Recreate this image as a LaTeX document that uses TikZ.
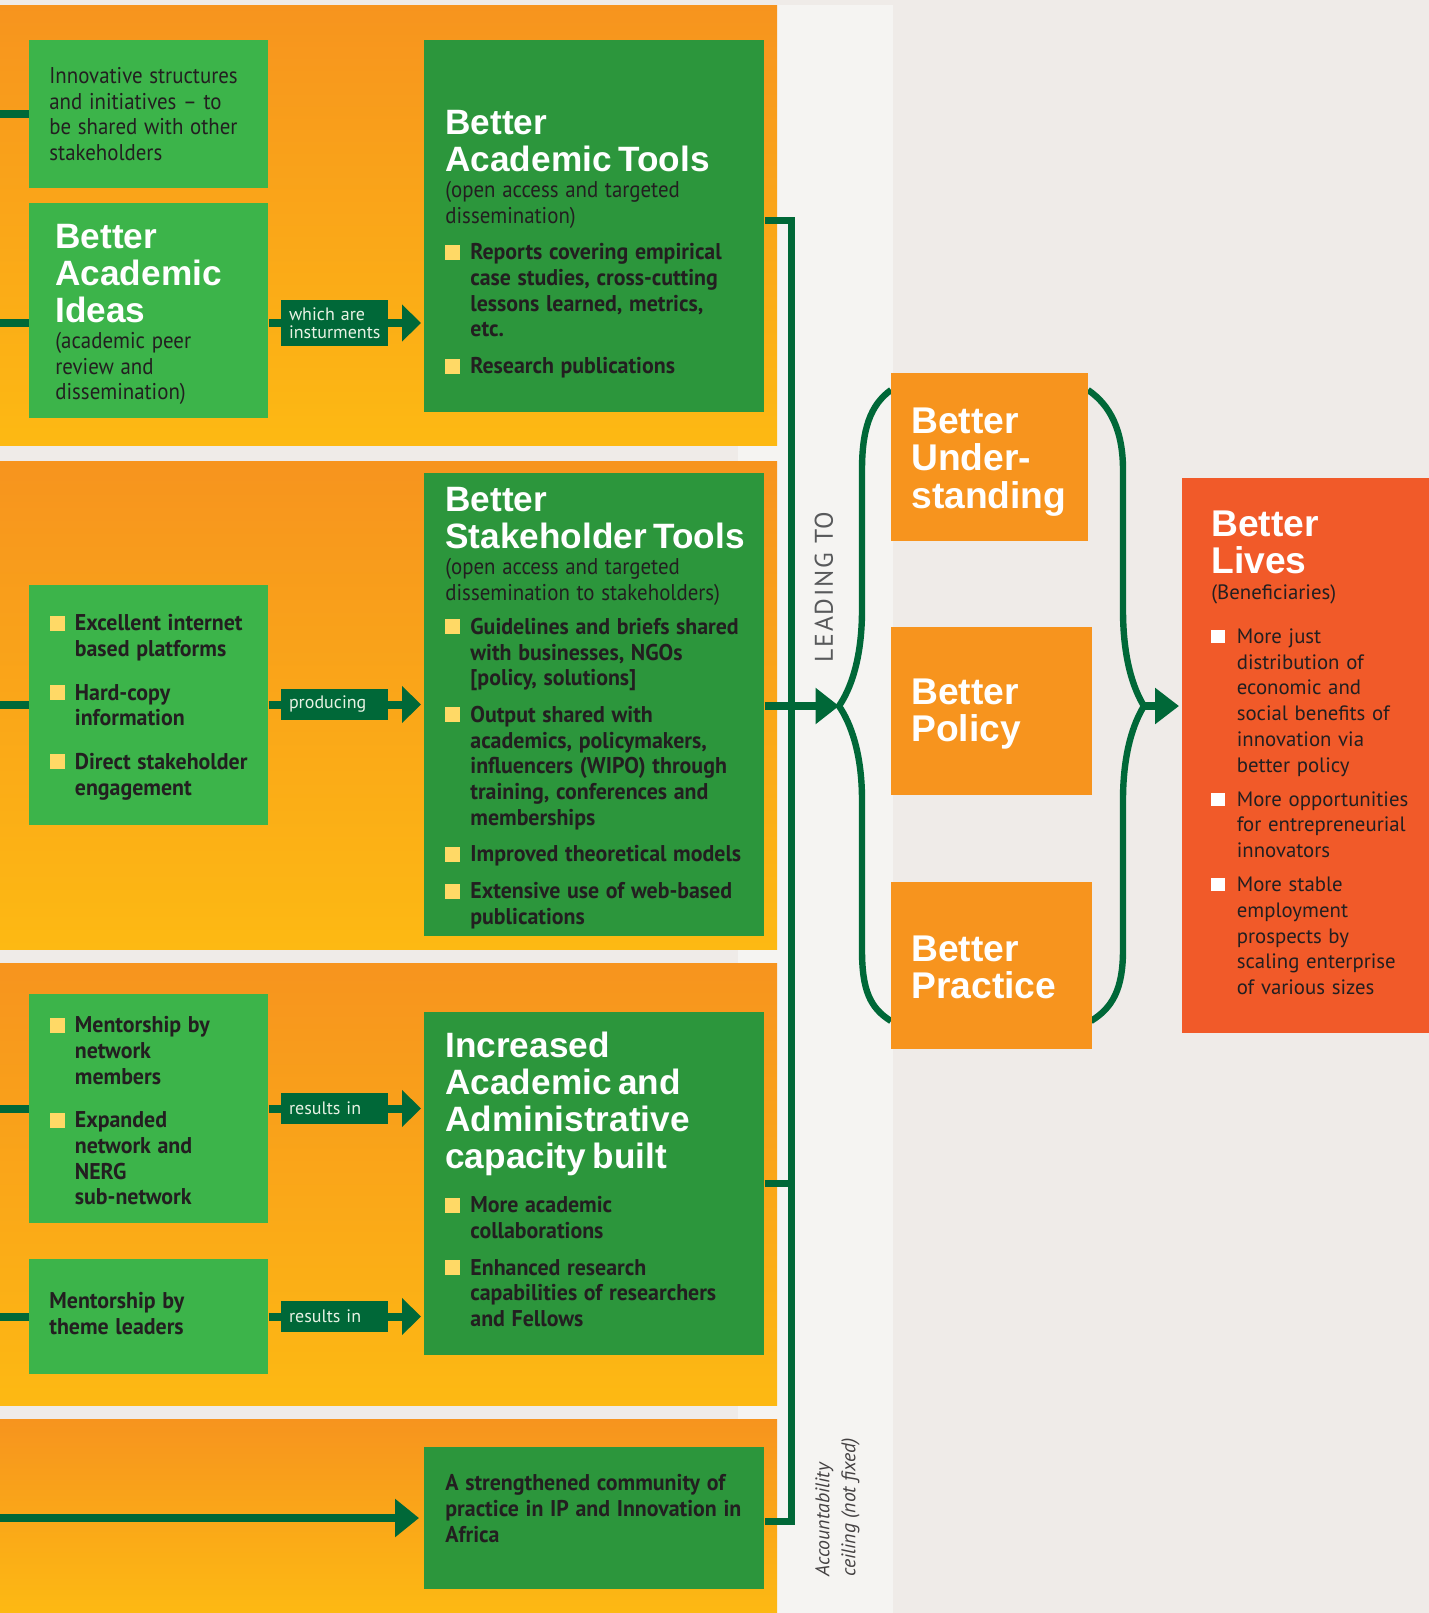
\documentclass[tikz,border=0pt]{standalone}
\usepackage{fontspec}
\setmainfont{PT Sans}
\newfontfamily\hfont{Liberation Sans}
\newfontfamily\cfont{PT Sans}[FakeStretch=0.915]
\newfontfamily\cbfont{PT Sans}[FakeStretch=0.96]
\newfontfamily\spacedfont{PT Sans}[LetterSpace=7]
\usetikzlibrary{arrows.meta}
\usepackage{xcolor}
\definecolor{bgray}{HTML}{EFEBE8}
\definecolor{lstrip}{HTML}{F5F4F2}
\definecolor{bandtop}{HTML}{F7941E}
\definecolor{bandbot}{HTML}{FDB913}
\definecolor{lgreen}{HTML}{3CB44A}
\definecolor{dgreen}{HTML}{2C963C}
\definecolor{cgreen}{HTML}{006838}
\definecolor{bulyel}{HTML}{FFD966}
\definecolor{outorange}{HTML}{F7941E}
\definecolor{livesred}{HTML}{F15A29}
\definecolor{ink}{HTML}{231F20}
\definecolor{labtext}{HTML}{E8F2E4}
\definecolor{leadgray}{HTML}{58595B}
% text fonts
\newcommand\headL{\hfont\bfseries\fontsize{17.6}{18.5}\selectfont\color{white}}
\newcommand\headR{\hfont\bfseries\fontsize{18.6}{18.8}\selectfont\color{white}}
\newcommand\condR{\cfont\mdseries\fontsize{11.4}{12.85}\selectfont\color{ink}}
\newcommand\condB{\cbfont\bfseries\fontsize{11.4}{12.85}\selectfont\color{ink}}
\newcommand\bodyR{\rmfamily\mdseries\fontsize{10.4}{12.9}\selectfont\color{ink}}
% square bullets (yellow on green, white on red)
\newcommand\yb{\hangindent=12.5pt\hangafter=1\noindent\makebox[12.5pt][l]{\textcolor{bulyel}{\rule{7.5pt}{7.5pt}}}}
\newcommand\wb{\hangindent=12.7pt\hangafter=1\noindent\makebox[12.7pt][l]{\textcolor{white}{\rule{7pt}{6.7pt}}}}
\tikzset{
    % arrow style
    >={Triangle[width=18pt, length=9.5pt]},
    % abstract base box style
    base/.style = {anchor=north west, inner sep=0pt, draw=none},
    % box styles (inherited from base style)
    inputBox/.style = {base, fill=lgreen},
    toolBox/.style = {base, fill=dgreen},
    outcomeBox/.style = {base, fill=outorange},
    livesBox/.style = {base, fill=livesred},
    % band behind each row
    band/.style = {top color=bandtop, bottom color=bandbot},
    % text inside the boxes
    txt/.style = {anchor=north west, inner sep=0pt, align=left, text width=180pt},
    % small dark labels on the arrows
    linkLabel/.style = {fill=cgreen, text=labtext, font=\fontsize{9}{9.2}\selectfont,
        align=left, text width=45.5pt, inner xsep=4pt, inner ysep=0pt, minimum height=15.5pt},
    % connector styles
    link/.style = {draw=cgreen, line width=4pt},
    trunk/.style = {draw=cgreen, line width=3.5pt},
    brace/.style = {draw=cgreen, line width=3.2pt}
}
\begin{document}
\begin{tikzpicture}[x=0.5pt, y=-0.5pt]
        \useasboundingbox (0,0) rectangle (1429,1613);
        % background, light column and the four bands
        \fill[bgray] (0,0) rectangle (1429,1613);
        \fill[lstrip] (738,5) rectangle (893,1613);
        \fill[band] (0,5) rectangle (777,445);
        \fill[band] (0,461) rectangle (777,949);
        \fill[band] (0,963) rectangle (777,1405);
        \fill[band] (0,1419) rectangle (777,1613);
        % braces round the outcome boxes
        \coordinate (braceTipL) at (839,706);
        \coordinate (braceTipR) at (1144,706);
        \draw[brace] (891,390) .. controls (870,405) and (862,430) .. (862,470) -- (862,610)
            .. controls (862,660) and (850,690) .. (braceTipL)
            .. controls (850,722) and (862,752) .. (862,800) -- (862,950)
            .. controls (862,990) and (870,1008) .. (891,1021);
        \draw[brace] (1088,390) .. controls (1110,405) and (1123,430) .. (1123,470) -- (1123,610)
            .. controls (1123,660) and (1134,690) .. (braceTipR)
            .. controls (1134,722) and (1123,752) .. (1123,800) -- (1123,950)
            .. controls (1123,990) and (1112,1008) .. (1091,1021);
        % place the boxes
        \node[inputBox, minimum width=119.5pt, minimum height=74pt] (innovBox) at (29,40) {};
        \node[inputBox, minimum width=119.5pt, minimum height=107.5pt] (ideasBox) at (29,203) {};
        \node[toolBox, minimum width=170pt, minimum height=186pt] (acadTools) at (424,40) {};
        \node[inputBox, minimum width=119.5pt, minimum height=120pt] (platBox) at (29,585) {};
        \node[toolBox, minimum width=170pt, minimum height=231.5pt] (stakeTools) at (424,473) {};
        \node[inputBox, minimum width=119.5pt, minimum height=114.5pt] (mentorBox) at (29,994) {};
        \node[inputBox, minimum width=119.5pt, minimum height=57.5pt] (themeBox) at (29,1259) {};
        \node[toolBox, minimum width=170pt, minimum height=171.5pt] (incrBox) at (424,1012) {};
        \node[toolBox, minimum width=170pt, minimum height=71pt] (commBox) at (424,1447) {};
        \node[outcomeBox, minimum width=98.5pt, minimum height=84pt] (underBox) at (891,373) {};
        \node[outcomeBox, minimum width=100.5pt, minimum height=84pt] (policyBox) at (891,627) {};
        \node[outcomeBox, minimum width=100.5pt, minimum height=83.5pt] (practiceBox) at (891,882) {};
        \node[livesBox, minimum width=123.5pt, minimum height=277.5pt] (livesBox) at (1182,478) {};
        % labels on the arrows
        \node[linkLabel, minimum height=23pt] (instrLabel) at (334.5,323) {which are\\insturments};
        \node[linkLabel] (prodLabel) at (334.5,704.5) {producing};
        \node[linkLabel] (resLabelA) at (334.5,1108.5) {results in};
        \node[linkLabel] (resLabelB) at (334.5,1316.5) {results in};
        % inputs coming in from the left
        \coordinate (inInnov) at (0,114);
        \coordinate (inIdeas) at (0,323);
        \coordinate (inPlat) at (0,704.5);
        \coordinate (inMentor) at (0,1108.5);
        \coordinate (inTheme) at (0,1316.5);
        \coordinate (inComm) at (0,1518);
        \draw[link] (inInnov) -- (inInnov -| innovBox.west);
        \draw[link] (inIdeas) -- (inIdeas -| ideasBox.west);
        \draw[link] (inPlat) -- (inPlat -| platBox.west);
        \draw[link] (inMentor) -- (inMentor -| mentorBox.west);
        \draw[link] (inTheme) -- (inTheme -| themeBox.west);
        \draw[link, -{Triangle[width=18.5pt, length=12pt]}, shorten >=2.5pt] (inComm) -- (inComm -| commBox.west);
        % draw straight arrows through the labels
        \draw[link] (instrLabel.west -| ideasBox.east) -- (instrLabel.west);
        \draw[link, ->, shorten >=1.5pt] (instrLabel.east) -- (instrLabel.east -| acadTools.west);
        \draw[link] (prodLabel.west -| platBox.east) -- (prodLabel.west);
        \draw[link, ->, shorten >=1.5pt] (prodLabel.east) -- (prodLabel.east -| stakeTools.west);
        \draw[link] (resLabelA.west -| mentorBox.east) -- (resLabelA.west);
        \draw[link, ->, shorten >=1.5pt] (resLabelA.east) -- (resLabelA.east -| incrBox.west);
        \draw[link] (resLabelB.west -| themeBox.east) -- (resLabelB.west);
        \draw[link, ->, shorten >=1.5pt] (resLabelB.east) -- (resLabelB.east -| incrBox.west);
        % draw the collecting line on the right of the bands
        \coordinate (trunkTop) at (791,220);
        \coordinate (trunkBot) at (791,1521);
        \draw[trunk] (trunkTop -| acadTools.east) -- (trunkTop) -- (trunkBot) -- (trunkBot -| commBox.east);
        \draw[trunk] (incrBox.east) -- (incrBox.east -| trunkTop);
        \draw[link, -{Triangle[width=17.5pt, length=11.75pt]}] (braceTipL -| stakeTools.east) -- (braceTipL);
        \draw[link, -{Triangle[width=17.5pt, length=12pt]}, shorten >=1.5pt] (braceTipR) -- (braceTipR -| livesBox.west);
        % texts of the first band
        \node[txt] (innovText) at (49,67) {\condR Innovative structures\\and initiatives – to\\be shared with other\\stakeholders\par};
        \node[txt] (ideasText) at (55,224) {\headL Better\\Academic\\Ideas\par
            \condR (academic peer\\review and\\dissemination)\par};
        \node[txt] (acadText) at (445,110) {\headL Better\\Academic Tools\par
            \condR (open access and targeted\\dissemination)\par\vspace{5.5pt}
            \condB\yb Reports covering empirical\newline case studies, cross-cutting\newline lessons learned, metrics,\newline etc.\par\vspace{5.5pt}
            \yb Research publications\par};
        % texts of the second band
        \node[txt] (platText) at (49.5,614) {\condB\yb Excellent internet\newline based platforms\par\vspace{9pt}
            \yb Hard-copy\newline information\par\vspace{9pt}
            \yb Direct stakeholder\newline engagement\par};
        \node[txt] (stakeText) at (445,487) {\headL Better\\Stakeholder Tools\par
            \condR (open access and targeted\\dissemination to stakeholders)\par\vspace{4.3pt}
            \condB\yb Guidelines and briefs shared\newline with businesses, NGOs\newline [policy, solutions]\par\vspace{5.5pt}
            \yb Output shared with\newline academics, policymakers,\newline influencers (WIPO) through\newline training, conferences and\newline memberships\par\vspace{5.5pt}
            \yb Improved theoretical models\par\vspace{5.5pt}
            \yb Extensive use of web-based\newline publications\par};
        % texts of the third band
        \node[txt] (mentorText) at (49.5,1016) {\condB\yb Mentorship by\newline network\newline members\par\vspace{9pt}
            \yb Expanded\newline network and\newline NERG\newline sub-network\par};
        \node[txt] (themeText) at (49,1292) {\condB Mentorship by\\theme leaders\par};
        \node[txt] (incrText) at (445,1032) {\headL Increased\\Academic and\\Administrative\\capacity built\par\vspace{9pt}
            \condB\yb More academic\newline collaborations\par\vspace{5.5pt}
            \yb Enhanced research\newline capabilities of researchers\newline and Fellows\par};
        % text of the fourth band
        \node[txt] (commText) at (445,1474) {\condB A strengthened community of\\practice in IP and Innovation in\\Africa\par};
        % texts on the right
        \node[txt] (underText) at (911,407) {\headR Better\\Under-\\standing\par};
        \node[txt] (policyText) at (911,678) {\headR Better\\Policy\par};
        \node[txt] (practiceText) at (911,935) {\headR Better\\Practice\par};
        \node[txt] (livesText) at (1211,510) {\headR Better\\Lives\par
            \bodyR (Beneficiaries)\par\vspace{9pt}
            \wb More just\newline distribution of\newline economic and\newline social benefits of\newline innovation via\newline better policy\par\vspace{4pt}
            \wb More opportunities\newline for entrepreneurial\newline innovators\par\vspace{4pt}
            \wb More stable\newline employment\newline prospects by\newline scaling enterprise\newline of various sizes\par};
        % notes along the collecting line
        \node[rotate=90, text=leadgray, font=\spacedfont\fontsize{12.8}{14}\selectfont] (leadingTo) at (824,587) {LEADING TO};
        \node[rotate=90, anchor=north west, inner sep=0pt, align=left, text=ink!85,
            font=\itshape\fontsize{9.9}{13}\selectfont] (ceilingNote) at (815,1577) {Accountability\\ceiling (not fixed)};
\end{tikzpicture}
\end{document}
